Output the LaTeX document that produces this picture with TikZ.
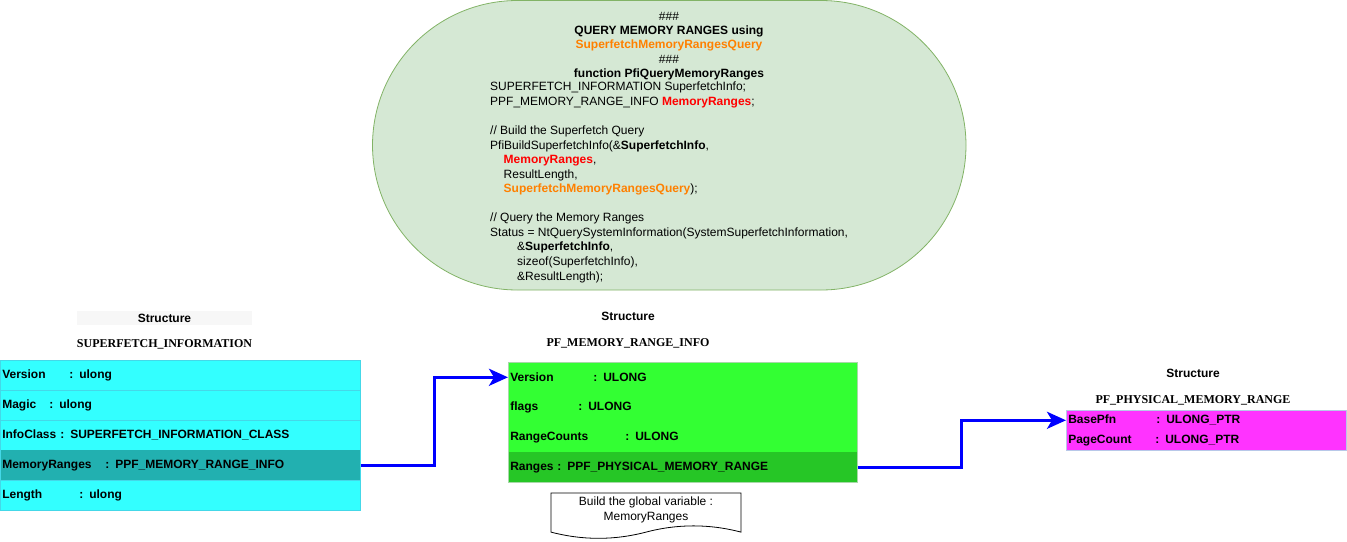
\documentclass[tikz,border=0pt]{standalone}
\usepackage{fontspec}
\setmainfont{Liberation Sans}
\newfontfamily\serifb{Liberation Serif}
\usetikzlibrary{arrows.meta,calc}
\definecolor{ellfill}{HTML}{D5E8D4}
\definecolor{elldraw}{HTML}{82B366}
\definecolor{orng}{HTML}{FF8000}
\definecolor{redc}{HTML}{FF0000}
\definecolor{cyanf}{HTML}{33FFFF}
\definecolor{cyand}{HTML}{22B0B0}
\definecolor{cyanb}{HTML}{44D8E8}
\definecolor{greenf}{HTML}{33FF33}
\definecolor{greend}{HTML}{26C626}
\definecolor{greenb}{HTML}{A8D8A8}
\definecolor{magf}{HTML}{FF33FF}
\definecolor{magb}{HTML}{B8C8E8}
\definecolor{titlebg}{HTML}{F7F7F7}
\definecolor{arrowc}{HTML}{0000FF}
\tikzset{
  txt/.style={font=\fontsize{12}{14.55}\selectfont, inner sep=0pt},
  rowbox/.style={anchor=north west, inner ysep=0pt, inner xsep=2pt, align=left,
     font=\fontsize{12}{14}\selectfont\bfseries, draw=#1, line width=0.6pt},
  title/.style={font=\fontsize{12}{14}\selectfont\bfseries, inner sep=0pt},
  tname/.style={font=\fontsize{12}{14}\selectfont\serifb\bfseries, inner sep=0pt},
  link/.style={draw=arrowc, line width=3pt, -{Stealth[length=19pt,width=17pt,inset=5pt]}},
}
\begin{document}
\begin{tikzpicture}[x=1pt,y=-1pt]
\useasboundingbox (0,0) rectangle (1347,541);
% query block
\draw[fill=ellfill, draw=elldraw, line width=0.8pt, rounded corners=145pt] (372.5,0.5) rectangle (966,290);
\node[txt, font=\fontsize{12}{14.25}\selectfont, align=center, anchor=north] (qhead) at (669,12) {\#\#\#\\
\bfseries QUERY MEMORY RANGES using\\
\bfseries\color{orng}SuperfetchMemoryRangesQuery\\
\#\#\#\\
\bfseries function PfiQueryMemoryRanges};
\node[txt, align=left, anchor=north west] (qcode) at (490,82) {SUPERFETCH\_INFORMATION SuperfetchInfo;\\
PPF\_MEMORY\_RANGE\_INFO {\bfseries\color{redc}MemoryRanges};\\
\mbox{}\\
// Build the Superfetch Query\\
PfiBuildSuperfetchInfo(\&{\bfseries SuperfetchInfo},\\
\hspace*{13.5pt}{\bfseries\color{redc}MemoryRanges},\\
\hspace*{13.5pt}ResultLength,\\
\hspace*{13.5pt}{\bfseries\color{orng}SuperfetchMemoryRangesQuery});\\
\mbox{}\\
// Query the Memory Ranges\\
Status = NtQuerySystemInformation(SystemSuperfetchInformation,\\
\hspace*{27pt}\&{\bfseries SuperfetchInfo},\\
\hspace*{27pt}sizeof(SuperfetchInfo),\\
\hspace*{27pt}\&ResultLength);};
% structure 1
\node[title, fill=titlebg, minimum width=175pt, minimum height=14pt] (t1) at (164.5,318) {Structure};
\node[tname] (n1) at (164.5,344) {SUPERFETCH\_INFORMATION};
\begin{scope}[every node/.append style={rowbox=cyanb, fill=cyanf, text width=356pt, minimum height=30pt}]
\node (a1) at (0,360) {\makebox[67pt][l]{Version}: ulong};
\node (a2) at (0,390) {\makebox[47pt][l]{Magic}: ulong};
\node (a3) at (0,420) {InfoClass : SUPERFETCH\_INFORMATION\_CLASS};
\node[fill=cyand, draw=cyand] (a4) at (0,450) {\makebox[103pt][l]{MemoryRanges}: PPF\_MEMORY\_RANGE\_INFO};
\node (a5) at (0,480) {\makebox[77pt][l]{Length}: ulong};
\end{scope}
\draw[cyanb, line width=0.8pt] (a1.north west) rectangle (a5.south east);
% structure 2
\node[title] (t2) at (628,316) {Structure};
\node[tname] (n2) at (628,343) {PF\_MEMORY\_RANGE\_INFO};
\begin{scope}[every node/.append style={rowbox=greenf, fill=greenf, text width=345pt, minimum height=30pt}]
\node (b1) at (508,362) {\makebox[83pt][l]{Version}: ULONG};
\node (b2) at (508,392) {\makebox[68pt][l]{flags}: ULONG};
\node (b3) at (508,422) {\makebox[115pt][l]{RangeCounts}: ULONG};
\node[fill=greend, draw=greend] (b4) at (508,452) {\makebox[47pt][l]{Ranges}:\hspace{6pt}PPF\_PHYSICAL\_MEMORY\_RANGE};
\end{scope}
\draw[greenb, line width=0.8pt] (b1.north west) rectangle (b4.south east);
% document note
\draw[black, line width=0.8pt, fill=white] (551,493) -- (741,493) -- (741,532.1)
  .. controls (709.3,523.8) and (677.7,523.8) .. (646,532.1)
  .. controls (614.3,540.4) and (582.7,540.4) .. (551,532.1) -- cycle;
\node[txt, align=center] (doc) at (646,510) {Build the global variable :\\MemoryRanges};
% structure 3
\node[title] (t3) at (1193,373) {Structure};
\node[tname] (n3) at (1193,400) {PF\_PHYSICAL\_MEMORY\_RANGE};
\begin{scope}[every node/.append style={rowbox=magf, fill=magf, text width=276pt, minimum height=20pt}]
\node (c1) at (1066,410) {\makebox[88pt][l]{BasePfn}: ULONG\_PTR};
\node (c2) at (1066,430) {\makebox[87pt][l]{PageCount}: ULONG\_PTR};
\end{scope}
\draw[magb, line width=0.8pt] (c1.north west) rectangle (c2.south east);
% connectors
\draw[link] (a4.east) -| ($(a4.east)!0.5!(b1.west)$) |- (b1.west);
\draw[link] (b4.east) -| ($(b4.east)!0.5!(c1.west)$) |- (c1.west);
\end{tikzpicture}
\end{document}
